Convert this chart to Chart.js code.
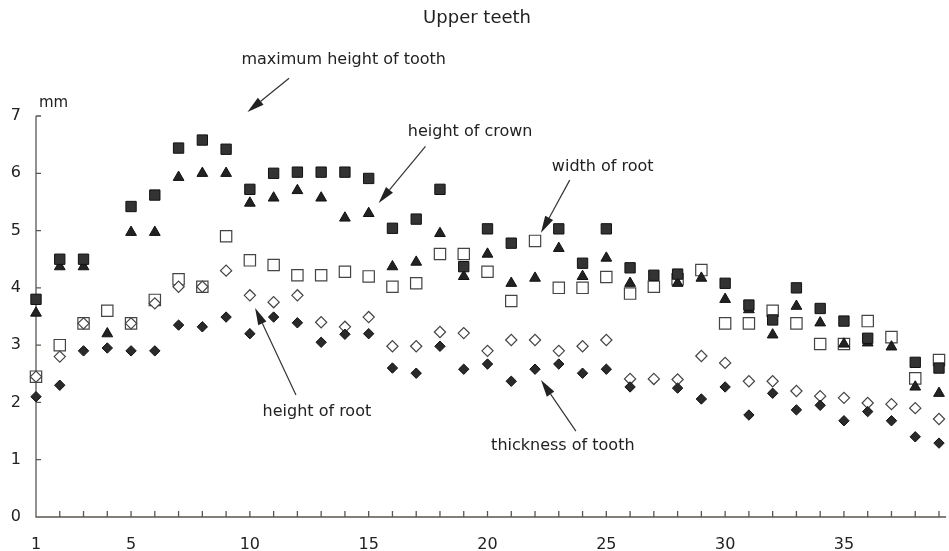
<!DOCTYPE html>
<html>
<head>
<meta charset="utf-8">
<title>Upper teeth</title>
<script src="https://cdn.jsdelivr.net/npm/chart.js@4.4.1/dist/chart.umd.min.js"></script>
<style>
  html, body { margin: 0; padding: 0; background: #fff; }
</style>
</head>
<body>
<canvas id="teethChart" width="949" height="551"></canvas>
<script>
// tooth position 1..39
const teeth = [1, 2, 3, 4, 5, 6, 7, 8, 9, 10, 11, 12, 13, 14, 15, 16, 17, 18, 19, 20,
  21, 22, 23, 24, 25, 26, 27, 28, 29, 30, 31, 32, 33, 34, 35, 36, 37, 38, 39];

// values in mm (null = no mark visible)
const maxHeight = [3.8, 4.5, 4.5, null, 5.42, 5.62, 6.44, 6.58, 6.42, 5.72,
  6.0, 6.02, 6.02, 6.02, 5.91, 5.04, 5.2, 5.72, 4.37, 5.03,
  4.78, null, 5.03, 4.43, 5.03, 4.35, 4.22, 4.24, null, 4.08,
  3.7, 3.44, 4.0, 3.64, 3.42, 3.12, null, 2.7, 2.6];
const crownHeight = [3.56, 4.37, 4.37, 3.2, 4.97, 4.97, 5.93, 6.0, 6.0, 5.48,
  5.57, 5.7, 5.57, 5.22, 5.3, 4.37, 4.45, 4.95, 4.2, 4.59,
  4.08, 4.17, 4.69, 4.2, 4.52, 4.08, null, 4.08, 4.17, 3.8,
  3.62, 3.18, 3.68, 3.39, 3.02, 3.04, 2.97, 2.27, 2.16];
const rootWidth = [2.45, 3.0, 3.38, 3.6, 3.38, 3.79, 4.15, 4.02, 4.9, 4.48,
  4.4, 4.22, 4.22, 4.28, 4.2, 4.02, 4.08, 4.59, 4.59, 4.28,
  3.77, 4.82, 4.0, 4.0, 4.19, 3.9, 4.02, 4.15, 4.31, 3.38,
  3.38, 3.6, 3.38, 3.02, 3.02, 3.42, 3.14, 2.42, 2.74];
const rootHeight = [2.45, 2.8, 3.38, null, 3.38, 3.73, 4.02, 4.02, 4.3, 3.87,
  3.75, 3.87, 3.4, 3.32, 3.49, 2.98, 2.98, 3.23, 3.21, 2.9,
  3.09, 3.09, 2.9, 2.98, 3.09, 2.41, 2.41, 2.4, 2.81, 2.69,
  2.37, 2.37, 2.2, 2.11, 2.08, 1.99, 1.97, 1.9, 1.71];
const thickness = [2.1, 2.3, 2.9, 2.95, 2.9, 2.9, 3.35, 3.32, 3.49, 3.2,
  3.49, 3.39, 3.05, 3.19, 3.2, 2.6, 2.51, 2.98, 2.58, 2.67,
  2.37, 2.58, 2.67, 2.51, 2.58, 2.27, null, 2.25, 2.06, 2.27,
  1.78, 2.16, 1.87, 1.95, 1.68, 1.84, 1.68, 1.4, 1.29];

const yTicks = [0, 1, 2, 3, 4, 5, 6, 7];
const xLabelled = [1, 5, 10, 15, 20, 25, 30, 35];

// arrow labels, in data units: text centre, arrow tail, arrow tip
const notes = [
  { text: 'maximum height of tooth', at: [13.95, 7.98], from: [11.65, 7.66], to: [9.9, 7.07] },
  { text: 'height of crown', at: [19.27, 6.72], from: [17.39, 6.47], to: [15.42, 5.48] },
  { text: 'width of root', at: [24.85, 6.11], from: [23.46, 5.88], to: [22.25, 4.96] },
  { text: 'height of root', at: [12.82, 1.83], from: [11.94, 2.13], to: [10.22, 3.65] },
  { text: 'thickness of tooth', at: [23.17, 1.24], from: [23.72, 1.5], to: [22.25, 2.39] }
];

const FONT = '"DejaVu Sans", "Liberation Sans", sans-serif';
const INK = '#222';

function pts(values) {
  return teeth.map((t, i) => ({ x: t, y: values[i] })).filter(p => p.y !== null);
}

// axes with inward tick marks, title, "mm" and arrow labels
const paperPlugin = {
  id: 'paper',
  beforeDatasetsDraw(chart) {
    const { ctx, chartArea: a, scales: { x, y } } = chart;
    ctx.save();
    ctx.strokeStyle = '#5a5550';
    ctx.lineWidth = 1.3;
    ctx.beginPath();
    ctx.moveTo(a.left, a.top);
    ctx.lineTo(a.left, a.bottom);
    ctx.lineTo(a.right, a.bottom);
    teeth.forEach(t => {
      const px = x.getPixelForValue(t);
      ctx.moveTo(px, a.bottom);
      ctx.lineTo(px, a.bottom - 6);
    });
    yTicks.forEach(v => {
      const py = y.getPixelForValue(v);
      ctx.moveTo(a.left, py);
      ctx.lineTo(a.left + 5, py);
    });
    ctx.stroke();
    ctx.restore();
  },
  afterDraw(chart) {
    const { ctx, chartArea: a, scales: { x, y } } = chart;
    ctx.save();
    ctx.fillStyle = INK;
    ctx.textAlign = 'center';
    ctx.textBaseline = 'middle';
    ctx.font = '18px ' + FONT;
    ctx.fillText('Upper teeth', (a.left + a.right) / 2 - 14, 18);
    ctx.font = '15px ' + FONT;
    ctx.textAlign = 'left';
    ctx.fillText('mm', a.left + 3, a.top - 13);

    ctx.font = '16px ' + FONT;
    ctx.textAlign = 'center';
    ctx.strokeStyle = '#333';
    ctx.lineWidth = 1.2;
    notes.forEach(n => {
      ctx.fillText(n.text, x.getPixelForValue(n.at[0]), y.getPixelForValue(n.at[1]));
      const x0 = x.getPixelForValue(n.from[0]), y0 = y.getPixelForValue(n.from[1]);
      const x1 = x.getPixelForValue(n.to[0]), y1 = y.getPixelForValue(n.to[1]);
      const ang = Math.atan2(y1 - y0, x1 - x0);
      const len = 17, half = 4.5;
      const bx = x1 - Math.cos(ang) * len, by = y1 - Math.sin(ang) * len;
      ctx.beginPath();
      ctx.moveTo(x0, y0);
      ctx.lineTo(bx, by);
      ctx.stroke();
      ctx.beginPath();
      ctx.moveTo(x1, y1);
      ctx.lineTo(bx - Math.sin(ang) * half, by + Math.cos(ang) * half);
      ctx.lineTo(bx + Math.sin(ang) * half, by - Math.cos(ang) * half);
      ctx.closePath();
      ctx.fill();
    });
    ctx.restore();
  }
};

const ctx = document.getElementById('teethChart').getContext('2d');

new Chart(ctx, {
  type: 'scatter',
  data: {
    datasets: [
      {
        label: 'maximum height of tooth', data: pts(maxHeight),
        pointStyle: 'rect', pointRadius: 7.3, backgroundColor: '#333', borderColor: '#111', borderWidth: 1
      },
      {
        label: 'height of crown', data: pts(crownHeight),
        pointStyle: 'triangle', pointRadius: 6.2, backgroundColor: '#222', borderColor: '#111', borderWidth: 1
      },
      {
        label: 'thickness of tooth', data: pts(thickness),
        pointStyle: 'rectRot', pointRadius: 5.2, backgroundColor: '#2a2a2a', borderColor: '#111', borderWidth: 1
      },
      {
        label: 'height of root', data: pts(rootHeight),
        pointStyle: 'rectRot', pointRadius: 5.6, backgroundColor: '#fff', borderColor: '#444', borderWidth: 1.2
      },
      {
        label: 'width of root', data: pts(rootWidth),
        pointStyle: 'rect', pointRadius: 8, backgroundColor: '#fff', borderColor: '#444', borderWidth: 1.2
      }
    ]
  },
  options: {
    responsive: false,
    animation: false,
    events: [],
    clip: false,
    layout: { autoPadding: false, padding: { top: 116, right: 0, bottom: 0, left: 0 } },
    plugins: {
      legend: { display: false },
      tooltip: { enabled: false },
      title: { display: false }
    },
    scales: {
      x: {
        type: 'linear',
        min: 1,
        max: 39.3,
        grid: { display: false },
        border: { display: false },
        afterBuildTicks: scale => { scale.ticks = teeth.map(v => ({ value: v })); },
        afterFit: scale => { scale.height = 34; },
        ticks: {
          autoSkip: false,
          maxRotation: 0,
          padding: 10,
          color: INK,
          font: { family: FONT, size: 16 },
          callback: v => (xLabelled.includes(v) ? String(v) : '')
        }
      },
      y: {
        type: 'linear',
        min: 0,
        max: 7,
        grid: { display: false },
        border: { display: false },
        afterBuildTicks: scale => { scale.ticks = yTicks.map(v => ({ value: v })); },
        afterFit: scale => { scale.width = 36; },
        ticks: {
          padding: 7,
          color: INK,
          font: { family: FONT, size: 16 }
        }
      }
    }
  },
  plugins: [paperPlugin]
});
</script>
</body>
</html>
